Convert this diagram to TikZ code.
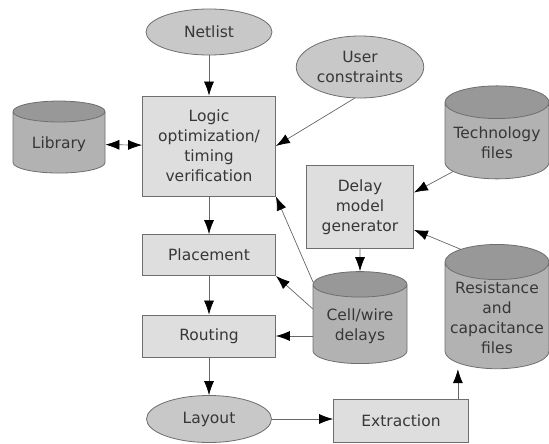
\documentclass[tikz,border=0pt]{standalone}
\usepackage{fontspec}
\setmainfont{DejaVu Sans}
\usetikzlibrary{shapes.geometric, arrows.meta, positioning, calc}
\definecolor{boxgray}{RGB}{222,222,222}
\definecolor{ovalgray}{RGB}{200,200,200}
\definecolor{cylbody}{RGB}{178,178,178}
\definecolor{cyltop}{RGB}{152,152,152}
\definecolor{edgegray}{RGB}{110,110,110}
\definecolor{textgray}{RGB}{55,55,55}

\begin{document}
\begin{tikzpicture}[
    x=1pt, y=-1pt,
    node/.style={draw=edgegray, line width=0.8pt, text=textgray, align=center, inner sep=2pt, font=\fontsize{15.5}{20}\selectfont},
    box/.style={node, rectangle, fill=boxgray},
    oval/.style={node, ellipse, fill=ovalgray},
    store/.style={node, cylinder, shape border rotate=90, aspect=0.36, cylinder uses custom fill, cylinder body fill=cylbody, cylinder end fill=cyltop},
    arrow/.style={-{Latex[length=14pt, width=10pt, color=black]}, draw=black!60, line width=0.7pt}
]
\useasboundingbox (0,0) rectangle (549,444);

% main flow
\node[oval, minimum width=126pt, minimum height=46pt] (netlist) at (209,32) {Netlist};
\node[box, minimum width=133pt, minimum height=100pt] (logic) at (209,146) {Logic\\optimization/\\timing\\verification};
\node[box, minimum width=133pt, minimum height=41pt] (place) at (209,255) {Placement};
\node[box, minimum width=133pt, minimum height=42pt] (route) at (209,336) {Routing};
\node[oval, minimum width=125pt, minimum height=47pt] (layout) at (209,419) {Layout};
\node[box, minimum width=135pt, minimum height=43pt] (extract) at (401,421) {Extraction};

% side inputs and data
\node[store, minimum width=92pt, minimum height=72pt] (library) at (59,144) {Library};
\node[oval, minimum width=126pt, minimum height=62pt] (usercon) at (360,67) {User\\constraints};
\node[store, minimum width=104pt, minimum height=93pt] (techfiles) at (497,143) {Technology\\files};
\node[box, minimum width=107pt, minimum height=83pt] (delaygen) at (360,207) {Delay\\model\\generator};
\node[store, minimum width=94pt, minimum height=92pt] (celldelay) at (360,326) {Cell/wire\\delays};
\node[store, minimum width=104pt, minimum height=111pt] (rcfiles) at (497,318) {Resistance\\and\\capacitance\\files};

\draw[arrow] (netlist) -- (logic);
\draw[arrow] (logic) -- (place);
\draw[arrow] (place) -- (route);
\draw[arrow] (route) -- (layout);
\draw[arrow] (layout.east) -- (extract.west |- layout.east);
\draw[arrow, {Latex[length=14pt, width=10pt, color=black]}-{Latex[length=14pt, width=10pt, color=black]}] (library) -- (logic);
\draw[arrow] (usercon.260) -- (logic.east);
\draw[arrow] (techfiles.213) -- (delaygen.15);
\draw[arrow] (rcfiles.118) -- (delaygen.-23);
\draw[arrow] (delaygen) -- (celldelay);
\draw[arrow] (celldelay.137) -- (logic.south east);
\draw[arrow] (celldelay.160) -- (place.south east);
\draw[arrow] (celldelay.west |- route.east) -- (route.east);
\draw[arrow] ([xshift=-11pt]extract.north east) -- ([xshift=-11pt]extract.north east |- rcfiles.270);
\end{tikzpicture}
\end{document}
